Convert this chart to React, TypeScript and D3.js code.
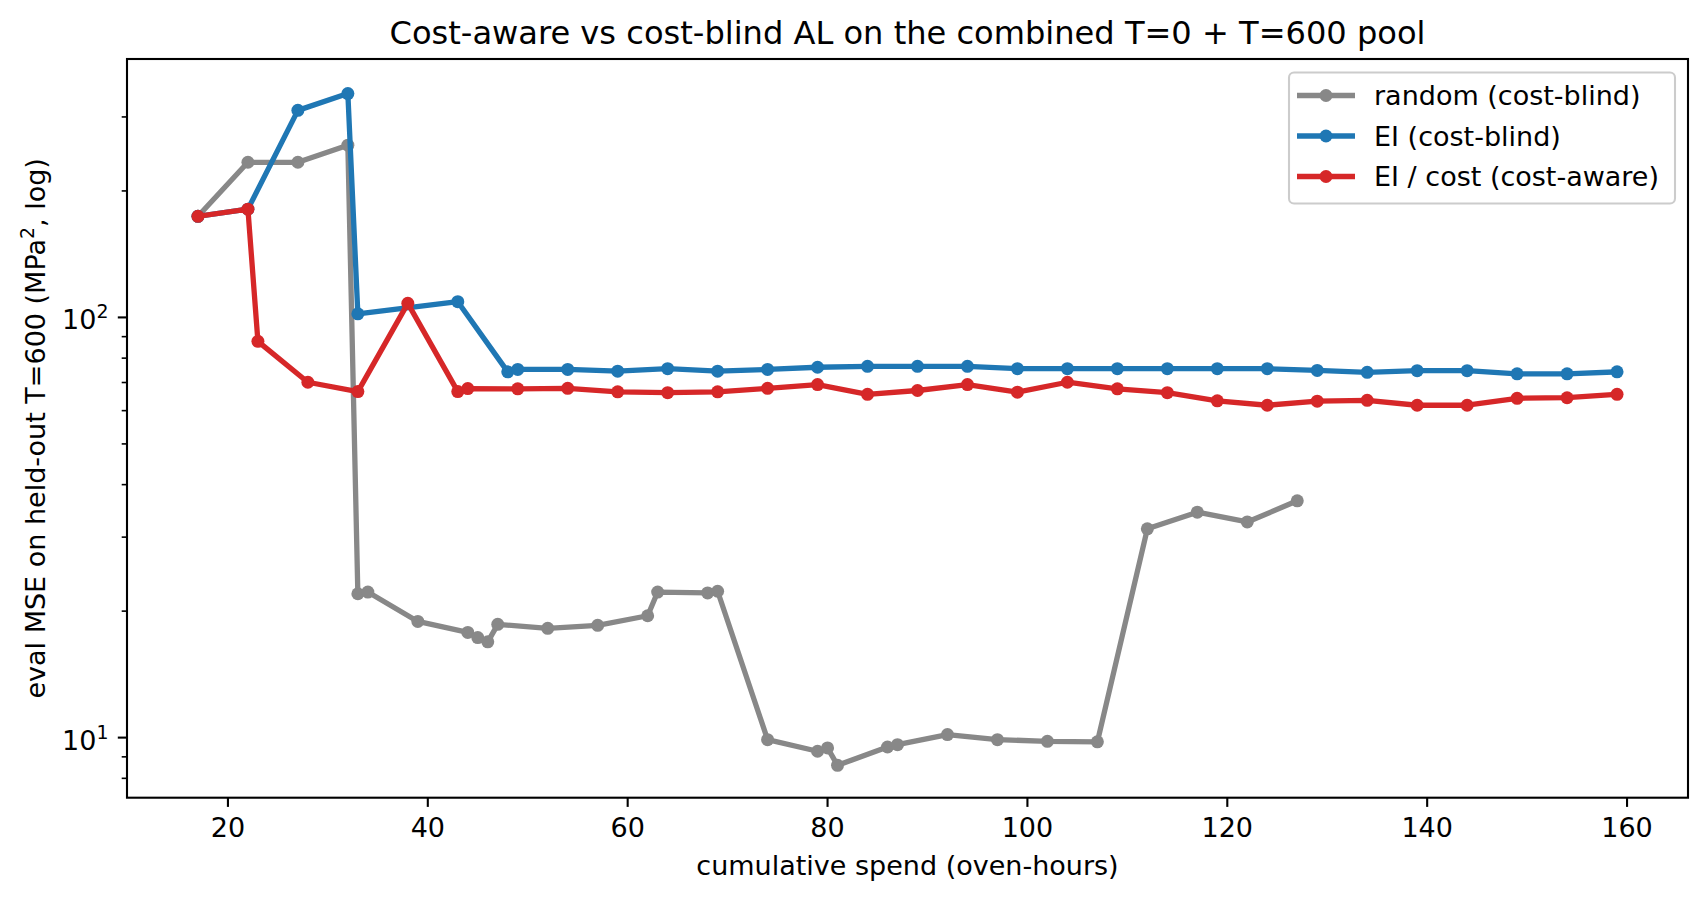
import * as d3 from 'd3';
import React, { useEffect, useRef } from 'react';

// cost-aware vs cost-blind active learning, log-scale MSE

const randomX = [17, 22, 27, 32, 33, 34, 39, 44, 45, 46, 47, 52, 57, 62, 63, 68, 69, 74, 79, 80, 81, 86, 87, 92, 97, 102, 107, 112, 117, 122, 127];
const randomY = [174, 234, 234, 257, 22.0, 22.2, 18.9, 17.8, 17.3, 16.9, 18.6, 18.2, 18.5, 19.5, 22.2, 22.1, 22.3, 9.89, 9.28, 9.45, 8.59, 9.5, 9.62, 10.17, 9.89, 9.8, 9.77, 31.4, 34.4, 32.6, 36.6];

const eiX = [17, 22, 27, 32, 33, 43, 48, 49, 54, 59, 64, 69, 74, 79, 84, 89, 94, 99, 104, 109, 114, 119, 124, 129, 134, 139, 144, 149, 154, 159];
const eiY = [174, 181, 311, 341, 102, 109, 74.2, 75.2, 75.2, 74.5, 75.5, 74.5, 75.2, 76.1, 76.5, 76.5, 76.5, 75.5, 75.5, 75.5, 75.5, 75.5, 75.5, 74.8, 74.0, 74.7, 74.7, 73.4, 73.4, 74.2];

const costX = [17, 22, 23, 28, 33, 38, 43, 44, 49, 54, 59, 64, 69, 74, 79, 84, 89, 94, 99, 104, 109, 114, 119, 124, 129, 134, 139, 144, 149, 154, 159];
const costY = [174, 181, 87.7, 70.1, 66.6, 108, 66.6, 67.7, 67.6, 67.8, 66.5, 66.2, 66.5, 67.8, 69.2, 65.6, 67.0, 69.2, 66.4, 70.1, 67.6, 66.2, 63.3, 61.8, 63.2, 63.5, 61.8, 61.8, 64.2, 64.4, 65.6];

const seriesNames = ['random (cost-blind)', 'EI (cost-blind)', 'EI / cost (cost-aware)'];
const seriesColors = ['#888888', '#1f77b4', '#d62728'];

const xTicks = [20, 40, 60, 80, 100, 120, 140, 160];
const yMajor = [10, 100];
const yMinor = [8, 9, 20, 30, 40, 50, 60, 70, 80, 90, 200, 300];

export default () => {
    const ref = useRef<any>();

    useEffect(() => {
        const W = 1706;
        const H = 901;
        const m = { top: 59, right: 18, bottom: 103.3, left: 127 };
        const font = 'DejaVu Sans, sans-serif';
        const fs = 27;
        const lw = 5.3;
        const r = 6.5;

        const svg = d3.select<any, any>(ref.current).attr('width', W).attr('height', H);
        svg.selectAll('*').remove();
        svg.append('rect').attr('width', W).attr('height', H).attr('fill', 'white');

        const xScale = d3.scaleLinear().domain([9.9, 166.1]).range([m.left, W - m.right]);
        const yScale = d3.scaleLog().domain([Math.pow(10, 0.857), Math.pow(10, 2.615)]).range([H - m.bottom, m.top]);

        const clipId = 'plotclip';
        svg.append('clipPath').attr('id', clipId)
            .append('rect')
            .attr('x', m.left).attr('y', m.top)
            .attr('width', W - m.left - m.right).attr('height', H - m.top - m.bottom);

        const dataArea = svg.append('g').attr('clip-path', `url(#${clipId})`);

        const sets = [
            { xs: randomX, ys: randomY },
            { xs: eiX, ys: eiY },
            { xs: costX, ys: costY },
        ];

        const line = d3.line<any>()
            .x((d) => xScale(d[0]))
            .y((d) => yScale(d[1]));

        sets.forEach((s, i) => {
            const pts = s.xs.map((x, j) => [x, s.ys[j]]);
            dataArea.append('path')
                .datum(pts)
                .attr('d', line)
                .attr('fill', 'none')
                .attr('stroke', seriesColors[i])
                .attr('stroke-width', lw)
                .attr('stroke-linejoin', 'round')
                .attr('stroke-linecap', 'square');
            dataArea.append('g')
                .selectAll('circle')
                .data(pts)
                .join('circle')
                .attr('cx', (d) => xScale(d[0]))
                .attr('cy', (d) => yScale(d[1]))
                .attr('r', r)
                .attr('fill', seriesColors[i]);
        });

        // axes frame
        svg.append('rect')
            .attr('x', m.left).attr('y', m.top)
            .attr('width', W - m.left - m.right).attr('height', H - m.top - m.bottom)
            .attr('fill', 'none').attr('stroke', 'black').attr('stroke-width', 2.1);

        // x ticks
        const xAxis = svg.append('g');
        xTicks.forEach((t) => {
            const x = xScale(t);
            xAxis.append('line')
                .attr('x1', x).attr('x2', x)
                .attr('y1', H - m.bottom).attr('y2', H - m.bottom + 9.2)
                .attr('stroke', 'black').attr('stroke-width', 2.1);
            xAxis.append('text')
                .attr('x', x).attr('y', 837)
                .attr('text-anchor', 'middle')
                .attr('font-family', font).attr('font-size', fs)
                .text(t);
        });

        // y ticks
        const yAxis = svg.append('g');
        yMinor.forEach((t) => {
            const y = yScale(t);
            yAxis.append('line')
                .attr('x1', m.left - 5.3).attr('x2', m.left)
                .attr('y1', y).attr('y2', y)
                .attr('stroke', 'black').attr('stroke-width', 1.6);
        });
        yMajor.forEach((t) => {
            const y = yScale(t);
            yAxis.append('line')
                .attr('x1', m.left - 9.2).attr('x2', m.left)
                .attr('y1', y).attr('y2', y)
                .attr('stroke', 'black').attr('stroke-width', 2.1);
            const label = yAxis.append('text')
                .attr('x', m.left - 18.5).attr('y', y + 12)
                .attr('text-anchor', 'end')
                .attr('font-family', font).attr('font-size', fs);
            label.append('tspan').text('10');
            label.append('tspan')
                .attr('font-size', fs * 0.7)
                .attr('dy', -11)
                .text(Math.round(Math.log10(t)));
        });

        // title and axis labels
        svg.append('text')
            .attr('x', (m.left + W - m.right) / 2).attr('y', 44)
            .attr('text-anchor', 'middle')
            .attr('font-family', font).attr('font-size', 32.1)
            .text('Cost-aware vs cost-blind AL on the combined T=0 + T=600 pool');

        svg.append('text')
            .attr('x', (m.left + W - m.right) / 2).attr('y', 875)
            .attr('text-anchor', 'middle')
            .attr('font-family', font).attr('font-size', fs)
            .text('cumulative spend (oven-hours)');

        const yLabel = svg.append('text')
            .attr('transform', `translate(45, ${(m.top + H - m.bottom) / 2}) rotate(-90)`)
            .attr('text-anchor', 'middle')
            .attr('font-family', font).attr('font-size', fs);
        yLabel.append('tspan').text('eval MSE on held-out T=600 (MPa');
        yLabel.append('tspan').attr('font-size', fs * 0.7).attr('dy', -11).text('2');
        yLabel.append('tspan').attr('dy', 11).text(', log)');

        // legend
        const lg = svg.append('g');
        lg.append('rect')
            .attr('x', 1289).attr('y', 72.5)
            .attr('width', 386).attr('height', 131)
            .attr('rx', 5).attr('ry', 5)
            .attr('fill', 'white').attr('fill-opacity', 0.8)
            .attr('stroke', '#cccccc').attr('stroke-width', 2.1);
        seriesNames.forEach((name, i) => {
            const y = 95.5 + i * 40.5;
            lg.append('line')
                .attr('x1', 1297).attr('x2', 1355)
                .attr('y1', y).attr('y2', y)
                .attr('stroke', seriesColors[i]).attr('stroke-width', lw);
            lg.append('circle')
                .attr('cx', 1326).attr('cy', y).attr('r', r)
                .attr('fill', seriesColors[i]);
            lg.append('text')
                .attr('x', 1374).attr('y', y + 9.5)
                .attr('font-family', font).attr('font-size', fs)
                .text(name);
        });
    });

    return (
        <div style={{ position: 'absolute', left: 0, top: 0 }}>
            <svg ref={ref} style={{ display: 'block' }} />
        </div>
    );
};
